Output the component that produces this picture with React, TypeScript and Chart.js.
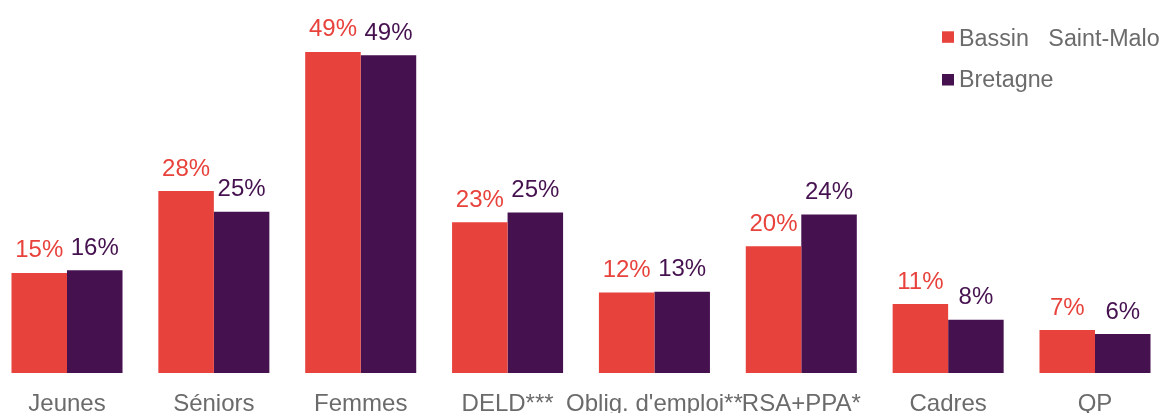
import React, { useEffect, useRef } from "react";
import { Chart, registerables } from "chart.js";

Chart.register(...registerables);

const categories = [
  "Jeunes",
  "Séniors",
  "Femmes",
  "DELD***",
  "Oblig. d'emploi**",
  "RSA+PPA*",
  "Cadres",
  "QP",
];
const seriesNames = ["Bassin   Saint-Malo", "Bretagne"];
const bassinValues = [15.4, 28.0, 49.4, 23.2, 12.4, 19.5, 10.6, 6.6];
const bretagneValues = [15.8, 24.8, 48.9, 24.7, 12.5, 24.4, 8.2, 6.0];
const valueLabels = [
  ["15%", "28%", "49%", "23%", "12%", "20%", "11%", "7%"],
  ["16%", "25%", "49%", "25%", "13%", "24%", "8%", "6%"],
];
const seriesColors = ["#E8423C", "#45114F"];
const FONT = "'Liberation Sans', Arial, Helvetica, sans-serif";

const valueLabelsPlugin = {
  id: "valueLabels",
  afterDatasetsDraw(chart: any) {
    const ctx = chart.ctx;
    ctx.save();
    ctx.font = `24px ${FONT}`;
    ctx.textAlign = "center";
    ctx.textBaseline = "alphabetic";
    chart.data.datasets.forEach((ds: any, di: number) => {
      const meta = chart.getDatasetMeta(di);
      ctx.fillStyle = ds.backgroundColor;
      meta.data.forEach((el: any, i: number) => {
        ctx.fillText(valueLabels[di][i], el.x, el.y - 15.5);
      });
    });
    ctx.restore();
  },
};

const legendPlugin = {
  id: "customLegend",
  afterDraw(chart: any) {
    const ctx = chart.ctx;
    ctx.save();
    ctx.font = `23.3px ${FONT}`;
    ctx.textAlign = "left";
    ctx.textBaseline = "alphabetic";
    chart.data.datasets.forEach((ds: any, di: number) => {
      const top = 31.3 + di * 42.7;
      ctx.fillStyle = ds.backgroundColor;
      ctx.fillRect(942, top, 12, 11.5);
      ctx.fillStyle = "#6B6B6B";
      ctx.fillText(ds.label, 959, 46 + di * 40.7);
    });
    ctx.restore();
  },
};

export default function App() {
  const ref = useRef<HTMLCanvasElement | null>(null);
  useEffect(() => {
    if (!ref.current) return;
    const chart = new Chart(ref.current, {
      type: "bar",
      data: {
        labels: categories,
        datasets: [
          {
            label: seriesNames[0],
            data: bassinValues,
            backgroundColor: seriesColors[0],
            categoryPercentage: 0.756,
            barPercentage: 1,
            clip: false as any,
          },
          {
            label: seriesNames[1],
            data: bretagneValues,
            backgroundColor: seriesColors[1],
            categoryPercentage: 0.756,
            barPercentage: 1,
            clip: false as any,
          },
        ],
      },
      options: {
        animation: false,
        responsive: false,
        maintainAspectRatio: false,
        layout: { padding: { left: 67, right: 71, top: 15.5, bottom: 4.2 } },
        plugins: { legend: { display: false }, tooltip: { enabled: false } },
        scales: {
          x: {
            offset: false,
            grid: { display: false, drawTicks: false },
            border: { display: false },
            ticks: {
              autoSkip: false,
              maxRotation: 0,
              minRotation: 0,
              padding: 17,
              color: "#6B6B6B",
              font: { family: FONT, size: 24 },
            },
          },
          y: {
            display: false,
            min: 0,
            max: 55,
          },
        },
      },
      plugins: [valueLabelsPlugin, legendPlugin],
    });
    return () => chart.destroy();
  }, []);
  return (
    <div
      style={{
        position: "absolute",
        left: 0,
        top: 0,
        width: 1166,
        height: 413,
        overflow: "hidden",
        background: "#fff",
      }}
    >
      <canvas ref={ref} width={1166} height={440} style={{ width: 1166, height: 440, display: "block" }} />
    </div>
  );
}
